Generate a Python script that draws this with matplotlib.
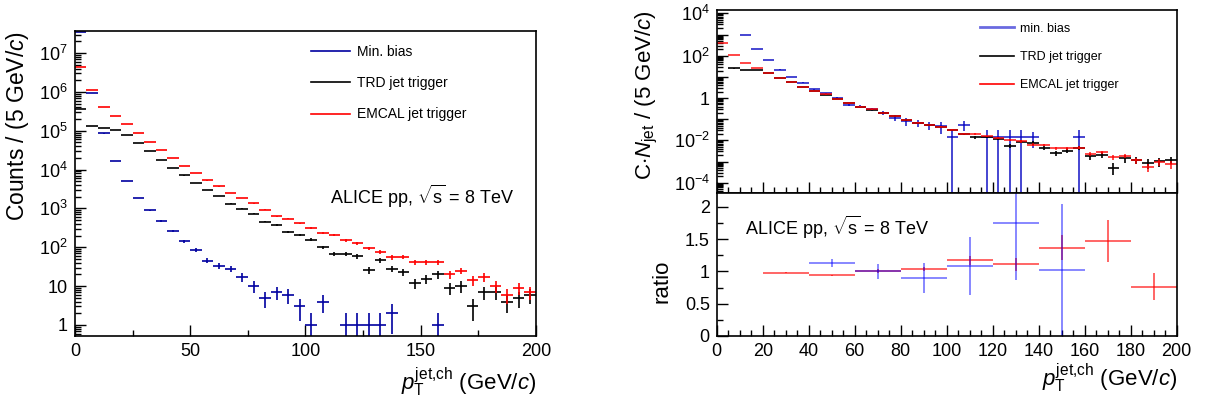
import numpy as np
import matplotlib
matplotlib.use('Agg')
import matplotlib.pyplot as plt
from matplotlib.lines import Line2D
from matplotlib.ticker import MultipleLocator, LogLocator, FuncFormatter, NullFormatter

plt.rcParams['font.family'] = ['Liberation Sans', 'DejaVu Sans']
plt.rcParams['mathtext.fontset'] = 'custom'
plt.rcParams['mathtext.rm'] = 'Liberation Sans'
plt.rcParams['mathtext.it'] = 'Liberation Sans:italic'
plt.rcParams['mathtext.bf'] = 'Liberation Sans:bold'

nan = np.nan

# 5 GeV/c bins, 0..200
bin_lo = np.arange(0, 200, 5)

# raw counts (left panel)
mb_counts = [3.5e7, 9.4e5, 8.5e4, 1.67e4, 5.1e3, 1.86e3, 890, 480, 263, 141,
             85, 45, 33, 28, 17, 10, 5, 7, 6, 3,
             1, 4, nan, 1, 1, 1, 1, 2, nan, nan,
             nan, 1, nan, nan, nan, nan, nan, nan, nan, nan]
trd_counts = [3.6e5, 1.35e5, 1.15e5, 1.07e5, 7.9e4, 4.8e4, 2.95e4, 1.8e4, 1.1e4, 7100,
              4570, 2950, 2090, 1320, 980, 740, 457, 372, 251, 209,
              158, 100, 68, 68, 58, 26, 46, 28, 23, 12,
              15, 20, 9, 10, 3, 7, 7, 4, 5, 6]
emc_counts = [4.3e6, 1.15e6, 4.1e5, 2.45e5, 1.5e5, 8.9e4, 5.1e4, 3.2e4, 2.0e4, 1.23e4,
              8100, 5250, 3700, 2500, 1860, 1350, 930, 630, 550, 410,
              316, 230, 204, 151, 126, 93, 76, 55, 56, 41,
              41, 41, 20, 25, 14, 17, 10, 6, 9, 7]

# normalised spectra C*N_jet (right, top)
mb_norm = [nan, nan, 1.0e3, 200, 62, 22.4, 10, 5.4, 2.6, 1.66,
           0.98, 0.49, 0.40, 0.30, 0.20, 0.12, 0.083, 0.069, 0.052, 0.048,
           0.0148, 0.054, nan, 0.0148, 0.0148, 0.0148, 0.0148, 0.0148, nan, nan,
           nan, 0.0148, nan, nan, nan, nan, nan, nan, nan, nan]
trd_norm = [nan, 25, 21.4, 21, 15.5, 9.0, 5.7, 3.4, 2.15, 1.45,
            0.92, 0.56, 0.40, 0.28, 0.20, 0.14, 0.09, 0.068, 0.052, 0.043,
            0.031, 0.021, 0.0138, 0.0148, 0.0123, 0.0056, 0.0087, 0.0076, 0.0045, 0.0025,
            0.0033, 0.0045, 0.0018, 0.0021, 0.00052, 0.00145, 0.00123, 0.00085, 0.00105, 0.00123]
emc_norm = [389, 112, 44.7, 25.7, 15.8, 9.1, 5.75, 3.47, 2.19, 1.48,
            0.93, 0.56, 0.40, 0.29, 0.20, 0.141, 0.091, 0.069, 0.054, 0.044,
            0.032, 0.021, 0.020, 0.0155, 0.0129, 0.0105, 0.0089, 0.0063, 0.0062, 0.0043,
            0.0043, 0.0045, 0.0023, 0.0027, 0.0016, 0.0019, 0.00115, 0.00055, 0.00095, 0.00074]

# ratios in 20 GeV/c bins (right, bottom)
ratio_lo_emc = [20, 40, 60, 80, 100, 120, 140, 160, 180]
ratio_emc = [0.98, 0.94, 1.0, 1.04, 1.17, 1.11, 1.37, 1.47, 0.76]
ratio_emc_err = [0.01, 0.01, 0.03, 0.03, 0.07, 0.10, 0.19, 0.33, 0.21]
ratio_lo_mb = [40, 60, 80, 100, 120, 140]
ratio_mb = [1.13, 1.0, 0.90, 1.09, 1.75, 1.02]
ratio_mb_err = [0.06, 0.12, 0.23, 0.45, 0.89, 1.03]

c_mb = '#0000a0'
c_trd = 'black'
c_emc = '#ff0000'

alice = r'ALICE pp, $\sqrt{\rm s}$ = 8 TeV'
ptlabel = r'$p_{\rm T}^{{\rm jet}{,}{\rm ch}}$ (GeV/$c$)'


def hist(ax, vals, rel, color, width=5, lo_edges=bin_lo, alpha=1.0):
    vals = np.asarray(vals, float)
    x = np.asarray(lo_edges, float) + width / 2.0
    err = vals * rel
    lo = np.minimum(err, vals * 0.999)
    ax.errorbar(x, vals, xerr=width / 2.0, yerr=[lo, err], fmt='none',
                ecolor=color, elinewidth=1.2, capsize=0, alpha=alpha)


def style(ax):
    ax.tick_params(which='both', direction='in', top=False, right=False,
                   labelsize=13, pad=5)
    ax.tick_params(which='major', length=8, width=1)
    ax.tick_params(which='minor', length=4, width=1)
    for s in ax.spines.values():
        s.set_linewidth(1.2)


def logfmt(v, pos, only_even=False):
    e = int(round(np.log10(v)))
    if only_even and e % 2:
        return ''
    if e == 0:
        return '1'
    if e == 1 and not only_even:
        return '10'
    return r'$10^{%d}$' % e


fig = plt.figure(figsize=(12.09, 4.03), dpi=100)

# ---------------- left panel
ax = fig.add_axes([0.0620, 0.1663, 0.3813, 0.7568])
for cnt, col in [(mb_counts, c_mb), (trd_counts, c_trd), (emc_counts, c_emc)]:
    cnt = np.asarray(cnt, float)
    hist(ax, cnt, 1 / np.sqrt(cnt), col)
ax.set_yscale('log')
ax.set_xlim(0, 200)
ax.set_ylim(0.52, 3.7e7)
ax.xaxis.set_major_locator(MultipleLocator(50))
ax.xaxis.set_minor_locator(MultipleLocator(25))
ax.yaxis.set_major_locator(LogLocator(base=10, numticks=20))
ax.yaxis.set_minor_locator(LogLocator(base=10, subs=np.arange(2, 10), numticks=20))
ax.yaxis.set_major_formatter(FuncFormatter(lambda v, p: logfmt(v, p)))
ax.yaxis.set_minor_formatter(NullFormatter())
style(ax)
ax.set_ylabel('Counts / (5 GeV/$c$)', fontsize=16.5, loc='top')
ax.yaxis.set_label_coords(-0.095, 1.0)
ax.set_xlabel(ptlabel, fontsize=16, loc='right')
ax.xaxis.set_label_coords(1.0, -0.095)
ax.text(0.553, 0.456, alice, transform=ax.transAxes,
        fontsize=13, va='center', ha='left')
handles = [Line2D([], [], color=c_mb, lw=1.2), Line2D([], [], color=c_trd, lw=1.2),
           Line2D([], [], color=c_emc, lw=1.2)]
ax.legend(handles, ['Min. bias', 'TRD jet trigger', 'EMCAL jet trigger'],
          loc='upper left', bbox_to_anchor=(0.512, 0.955), frameon=False,
          fontsize=10, handlelength=2.8, handletextpad=0.5, labelspacing=1.25,
          borderpad=0, borderaxespad=0)

# ---------------- right panel, top
at = fig.add_axes([0.5928, 0.5203, 0.3805, 0.4548])
rel_mb = 1 / np.sqrt(np.asarray(mb_counts, float))
rel_trd = 1 / np.sqrt(np.asarray(trd_counts, float))
rel_emc = 1 / np.sqrt(np.asarray(emc_counts, float))
hist(at, mb_norm, rel_mb, '#0000c0', alpha=0.85)
hist(at, trd_norm, rel_trd, c_trd)
hist(at, emc_norm, rel_emc, c_emc, alpha=0.85)
at.set_yscale('log')
at.set_xlim(0, 200)
at.set_ylim(10 ** -4.5, 10 ** 4.16)
at.xaxis.set_major_locator(MultipleLocator(20))
at.xaxis.set_minor_locator(MultipleLocator(5))
at.xaxis.set_major_formatter(NullFormatter())
at.yaxis.set_major_locator(LogLocator(base=10, numticks=20))
at.yaxis.set_minor_locator(LogLocator(base=10, subs=np.arange(2, 10), numticks=20))
at.yaxis.set_major_formatter(FuncFormatter(lambda v, p: logfmt(v, p, True)))
at.yaxis.set_minor_formatter(NullFormatter())
style(at)
at.set_ylabel(r'C$\cdot N_{\rm jet}$ / (5 GeV/$c$)', fontsize=16, loc='top')
at.yaxis.set_label_coords(-0.123, 1.0)
handles = [Line2D([], [], color='#6a6ae0', lw=2), Line2D([], [], color=c_trd, lw=1.2),
           Line2D([], [], color=c_emc, lw=1.2)]
at.legend(handles, ['min. bias', 'TRD jet trigger', 'EMCAL jet trigger'],
          loc='upper left', bbox_to_anchor=(0.572, 0.93), frameon=False,
          fontsize=9, handlelength=2.7, handletextpad=0.55, labelspacing=1.3,
          borderpad=0, borderaxespad=0)

# ---------------- right panel, bottom
ab = fig.add_axes([0.5928, 0.1663, 0.3805, 0.3541])
hist(ab, ratio_emc, np.asarray(ratio_emc_err) / np.asarray(ratio_emc), '#ff0000',
     width=20, lo_edges=ratio_lo_emc, alpha=0.7)
hist(ab, ratio_mb, np.asarray(ratio_mb_err) / np.asarray(ratio_mb), '#0000ff',
     width=20, lo_edges=ratio_lo_mb, alpha=0.55)
ab.set_xlim(0, 200)
ab.set_ylim(0, 2.21)
ab.xaxis.set_major_locator(MultipleLocator(20))
ab.xaxis.set_minor_locator(MultipleLocator(5))
ab.yaxis.set_major_locator(MultipleLocator(0.5))
ab.yaxis.set_minor_locator(MultipleLocator(0.25))
ab.yaxis.set_major_formatter(FuncFormatter(lambda v, p: '%g' % v))
style(ab)
ab.set_ylabel('ratio', fontsize=16)
ab.yaxis.set_label_coords(-0.097, 0.385)
ab.set_xlabel(ptlabel, fontsize=16, loc='right')
ab.xaxis.set_label_coords(1.0, -0.18)
ab.text(0.0615, 0.757, alice, transform=ab.transAxes,
        fontsize=13, va='center', ha='left')

fig.savefig('out.png', dpi=100)
